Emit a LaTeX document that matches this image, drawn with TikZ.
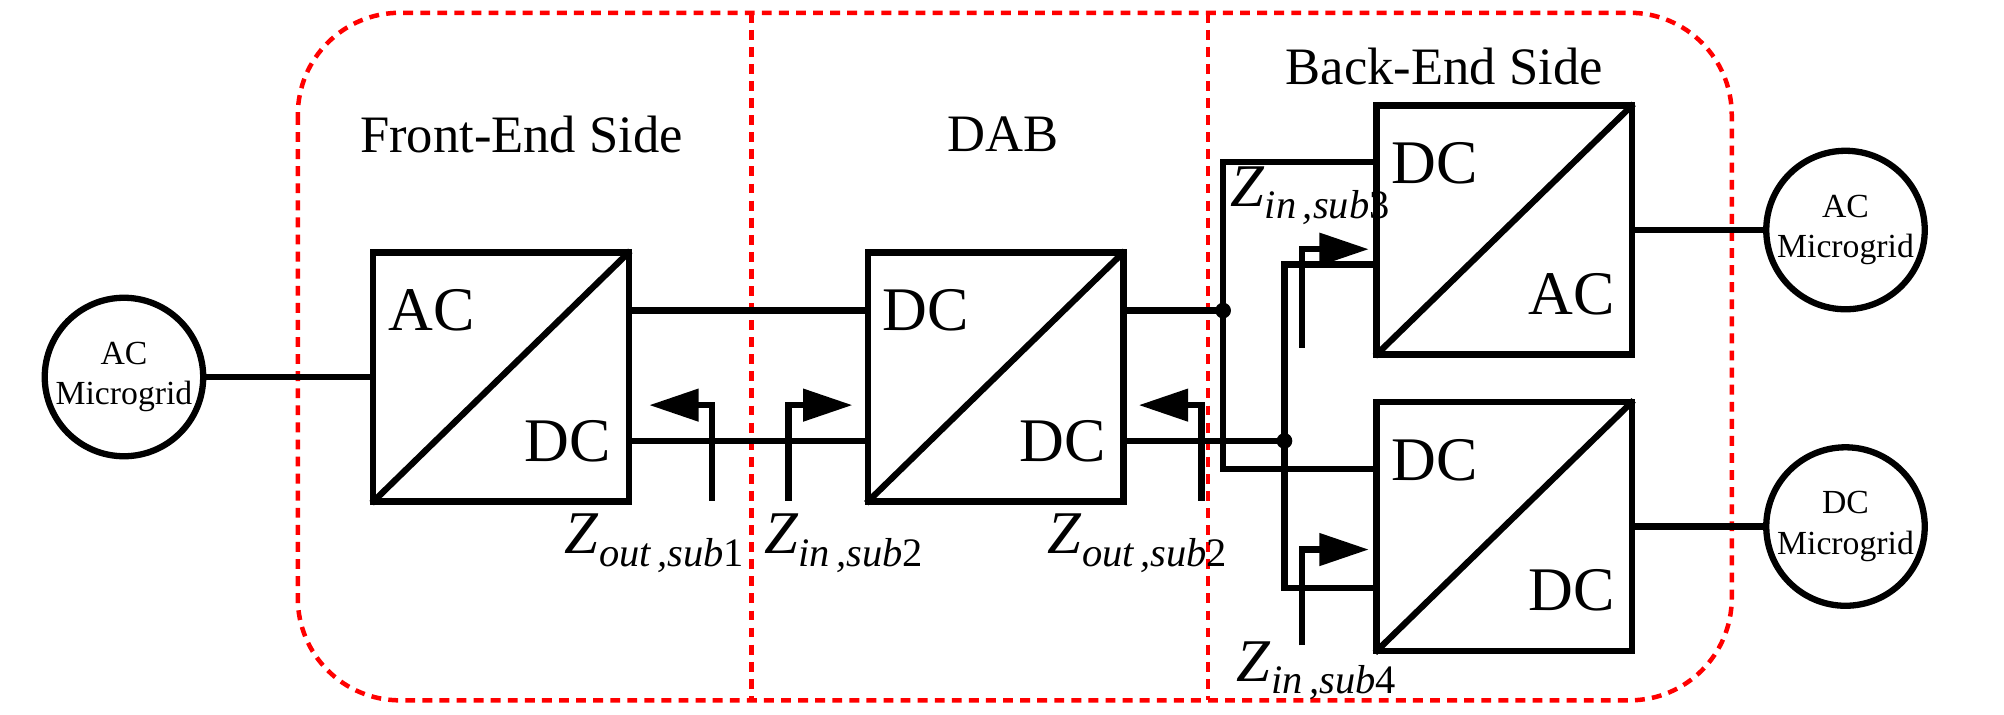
\documentclass[tikz,border=0pt]{standalone}
\usepackage{fontspec}
\setmainfont{Liberation Serif}
\usetikzlibrary{arrows.meta}
\newcommand{\zlab}[2]{\fontsize{13.5}{14}\selectfont\textit{Z}\raisebox{-0.45ex}{\fontsize{9}{10}\selectfont\textit{#1}#2}}
\begin{document}
\begin{tikzpicture}[x=0.01cm,y=-0.01cm,
  wire/.style={line width=1.4pt},
  conv/.style={draw,line width=1.4pt,minimum width=200*0.01cm,minimum height=195*0.01cm,inner sep=0pt},
  grid/.style={draw,circle,line width=1.4pt,minimum size=124*0.01cm,inner sep=0pt,align=center,font=\fontsize{7.5}{9}\selectfont},
  btxt/.style={font=\fontsize{13.8}{14}\selectfont,inner sep=0pt},
  title/.style={font=\fontsize{11.7}{13}\selectfont},
  zarr/.style={line width=1.4pt,-{Triangle[length=11pt,width=7pt]}},
  dot/.style={circle,fill,inner sep=0pt,minimum size=3.5pt},
  region/.style={red,line width=1pt,dash pattern=on 2.2pt off 1.6pt}]
\useasboundingbox (0,0) rectangle (1568,559);
% regions
\draw[region,rounded corners=80*0.01cm] (233,10) rectangle (1355,548);
\draw[region] (588,10) -- (588,548);
\draw[region] (945,10) -- (945,548);
\node[title] (t1) at (408,105) {Front-End Side};
\node[title] (t2) at (785,105) {DAB};
\node[title] (t3) at (1130,52) {Back-End Side};
% grids
\node[grid] (g1) at (97,295) {AC\\Microgrid};
\node[grid] (g2) at (1444,180) {AC\\Microgrid};
\node[grid] (g3) at (1444,412) {DC\\Microgrid};
% converters
\node[conv] (b1) at (392,295) {};
\node[conv] (b2) at (779,295) {};
\node[conv] (b3) at (1177,180) {};
\node[conv] (b4) at (1177,412) {};
\foreach \b/\u/\l in {b1/AC/DC,b2/DC/DC,b3/DC/AC,b4/DC/DC}{
  \draw[wire,shorten <=0.5pt,shorten >=0.5pt] (\b.south west) -- (\b.north east);
  \node[btxt] at ([xshift=48*0.01cm,yshift=-48*0.01cm]\b.north west) {\u};
  \node[btxt] at ([xshift=-50*0.01cm,yshift=50*0.01cm]\b.south east) {\l};
}
% wires
\draw[wire] (g1.east) -- (b1.west);
\coordinate (b1a) at (492,243); \coordinate (b1b) at (492,345);
\coordinate (b2a) at (680,243); \coordinate (b2b) at (680,345);
\coordinate (b2c) at (877,243); \coordinate (b2d) at (877,345);
\draw[wire] (b1a) -- (b2a);
\draw[wire] (b1b) -- (b2b);
\node[dot] (j1) at (957,243) {};
\node[dot] (j2) at (1005,345) {};
\draw[wire] (b2c) -- (j1.center);
\draw[wire] (b2d) -- (j2.center);
\coordinate (b3a) at (1077,127); \coordinate (b3b) at (1077,207);
\coordinate (b4a) at (1077,367); \coordinate (b4b) at (1077,460);
\draw[wire] (b3a) -| (957,367) -- (b4a);
\draw[wire] (b3b) -| (1005,460) -- (b4b);
\draw[wire] (b3.east) -- (g2.west);
\draw[wire] (b4.east) -- (g3.west);
% impedance arrows
\coordinate (a1) at (557,392); \coordinate (a1e) at (508,317);
\coordinate (a2) at (617,392); \coordinate (a2e) at (667,317);
\coordinate (a3) at (940,392); \coordinate (a3e) at (891,317);
\coordinate (a4) at (1019,272); \coordinate (a4e) at (1071,195);
\coordinate (a5) at (1019,505); \coordinate (a5e) at (1071,430);
\draw[zarr] (a1) |- (a1e);
\draw[zarr] (a2) |- (a2e);
\draw[zarr] (a3) |- (a3e);
\draw[zarr] (a4) |- (a4e);
\draw[zarr] (a5) |- (a5e);
\node[inner sep=0pt] (z1) at (512,425) {\zlab{out\,,sub}{1}};
\node[inner sep=0pt] (z2) at (660,425) {\zlab{in\,,sub}{2}};
\node[inner sep=0pt] (z3) at (890,425) {\zlab{out\,,sub}{2}};
\node[inner sep=0pt] (z4) at (1025,153) {\zlab{in\,,sub}{3}};
\node[inner sep=0pt] (z5) at (1030,525) {\zlab{in\,,sub}{4}};
\end{tikzpicture}
\end{document}
